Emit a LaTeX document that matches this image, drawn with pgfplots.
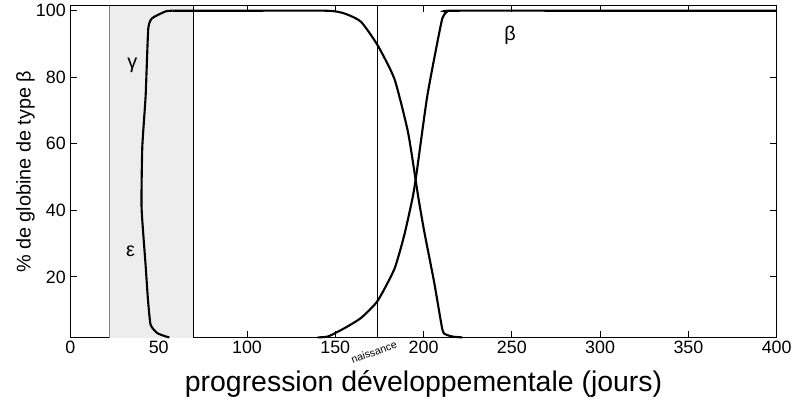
\documentclass[border=0pt]{standalone}
\usepackage{fontspec}
\setmainfont{Liberation Sans}
\usepackage{pgfplots}
\pgfplotsset{compat=1.18}

\begin{document}
\begin{tikzpicture}
\begin{axis}[
    width=534pt, height=251pt, scale only axis,
    xmin=0, xmax=400, ymin=1.7, ymax=101.5,
    xtick={0,50,...,400}, ytick={20,40,60,80,100},
    tick align=inside, major tick length=5pt,
    tick style={black, line width=0.6pt},
    axis line style={black, line width=0.7pt},
    ticklabel style={font=\fontsize{13.5}{15}\selectfont},
    xticklabel style={yshift=1pt},
    /pgf/number format/assume math mode=true,
    xlabel={progression développementale (jours)},
    xlabel style={font=\fontsize{21.5}{24}\selectfont,
        at={(axis description cs:0.5,0)}, anchor=center, yshift=-35pt},
    ylabel={\% de globine de type β},
    ylabel style={font=\fontsize{15}{17}\selectfont, yshift=-6pt},
    clip=false,
]
% zone embryonnaire
\addplot[fill=black!7, draw=none] coordinates {(22,1.7) (22,101.5) (69.5,101.5) (69.5,1.7)};
\addplot[gray, line width=0.5pt] coordinates {(22,1.7) (22,101.5)};
\addplot[black, line width=0.8pt] coordinates {(69.5,1.7) (69.5,101.5)};
% naissance
\addplot[black, line width=0.5pt] coordinates {(174,1.7) (174,101.5)};

% epsilon -> gamma
\addplot[black, line width=1.6pt, smooth, tension=0.3] coordinates {
    (56,1.8) (53.9,2.1) (49.2,3.1) (45.4,5.6) (43.9,13.3) (42.6,23.4)
    (40.3,40.8) (40.7,59) (42.6,74.4) (44.1,94.7) (46.4,97.8)
    (53.9,99.8) (57.7,100)
};
% gamma en declin
\addplot[black, line width=1.6pt, smooth, tension=0.35] coordinates {
    (57.7,100) (100,100) (145,100) (155,99.2) (164.5,96.7) (174,89.6)
    (183.5,79.5) (191,64) (194.7,52) (197,44) (200.4,33.6) (206,18.4)
    (210.7,4.1) (213,2.6) (217,2.0) (222,1.8)
};
% beta
\addplot[black, line width=1.6pt, smooth, tension=0.35] coordinates {
    (140,1.8) (146,2.1) (155.3,4.6) (164.7,7.7) (174,12.8) (183.5,22.4)
    (189.1,32.6) (193.8,43.8) (196,51) (202,74) (208,91) (210.7,97.8)
    (213,99.6) (216,100) (300,100) (400,100)
};

\node[font=\fontsize{15}{17}\selectfont] at (axis cs:35,83.5) {γ};
\node[font=\fontsize{15}{17}\selectfont] at (axis cs:34,27.6) {ε};
\node[font=\fontsize{15}{17}\selectfont] at (axis cs:249,92.7) {β};
\node[font=\fontsize{8}{9}\selectfont, rotate=20, yshift=-11.5pt] at (axis cs:169,1.7) {naissance};
\end{axis}
\path (current bounding box.north west) ++(-9pt,0pt);
\end{tikzpicture}
\end{document}
